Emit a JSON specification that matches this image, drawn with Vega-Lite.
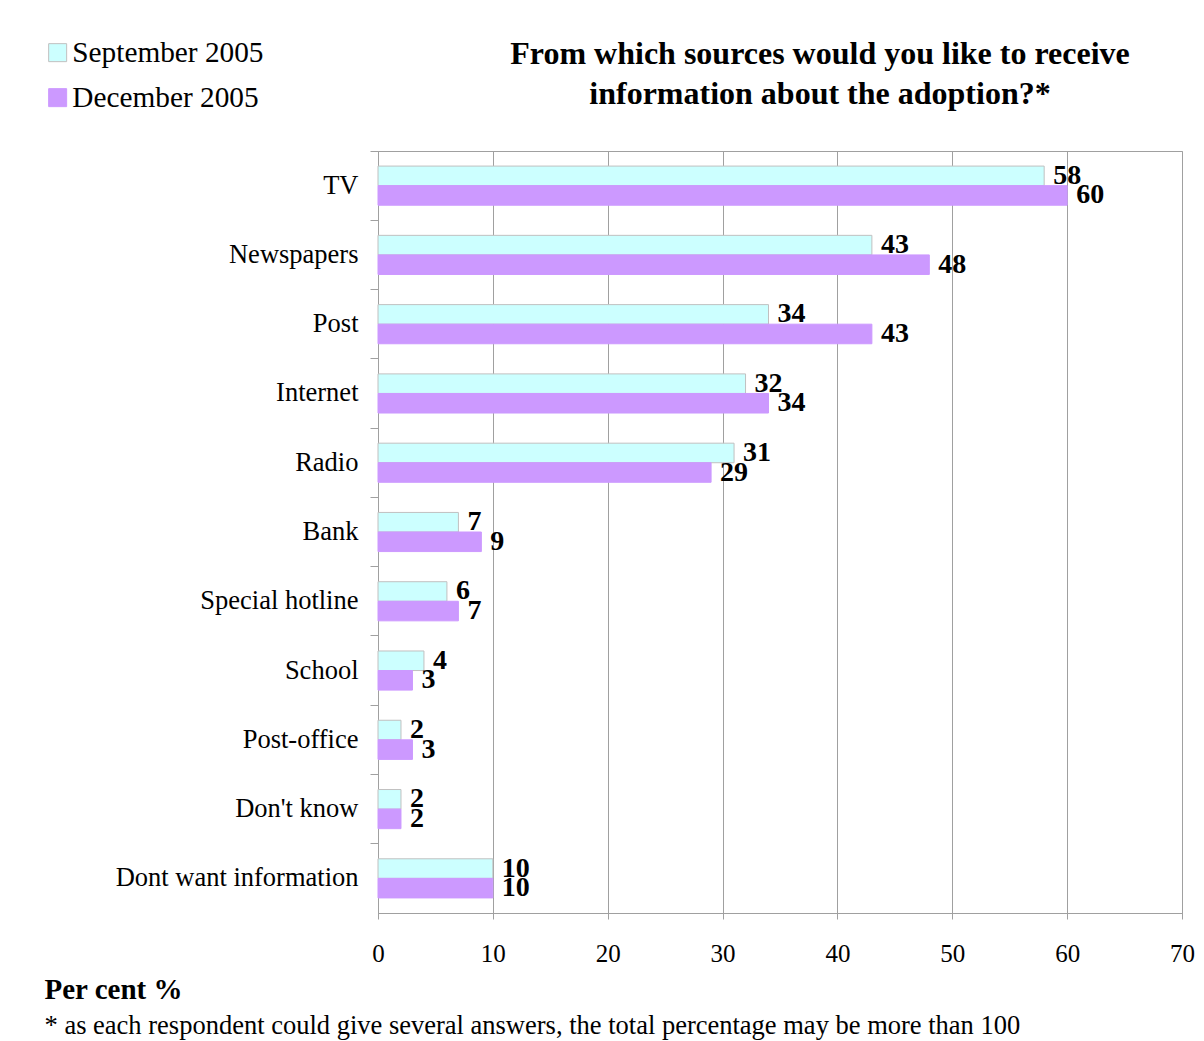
{
  "$schema": "https://vega.github.io/schema/vega-lite/v6.json",
  "width": 804,
  "height": 762,
  "autosize": "none",
  "padding": {"left": 378, "top": 151, "right": 22, "bottom": 128},
  "background": "white",
  "title": {
    "text": ["From which sources would you like to receive", "information about the adoption?*"],
    "font": "Liberation Serif",
    "fontSize": 32,
    "fontWeight": "bold",
    "color": "black",
    "anchor": "middle",
    "frame": "group",
    "dx": 40,
    "lineHeight": 40,
    "offset": -73
  },
  "data": {
    "values": [
      {"source": "TV", "period": "September 2005", "value": 58},
      {"source": "TV", "period": "December 2005", "value": 60},
      {"source": "Newspapers", "period": "September 2005", "value": 43},
      {"source": "Newspapers", "period": "December 2005", "value": 48},
      {"source": "Post", "period": "September 2005", "value": 34},
      {"source": "Post", "period": "December 2005", "value": 43},
      {"source": "Internet", "period": "September 2005", "value": 32},
      {"source": "Internet", "period": "December 2005", "value": 34},
      {"source": "Radio", "period": "September 2005", "value": 31},
      {"source": "Radio", "period": "December 2005", "value": 29},
      {"source": "Bank", "period": "September 2005", "value": 7},
      {"source": "Bank", "period": "December 2005", "value": 9},
      {"source": "Special hotline", "period": "September 2005", "value": 6},
      {"source": "Special hotline", "period": "December 2005", "value": 7},
      {"source": "School", "period": "September 2005", "value": 4},
      {"source": "School", "period": "December 2005", "value": 3},
      {"source": "Post-office", "period": "September 2005", "value": 2},
      {"source": "Post-office", "period": "December 2005", "value": 3},
      {"source": "Don't know", "period": "September 2005", "value": 2},
      {"source": "Don't know", "period": "December 2005", "value": 2},
      {"source": "Dont want information", "period": "September 2005", "value": 10},
      {"source": "Dont want information", "period": "December 2005", "value": 10}
    ]
  },
  "encoding": {
    "y": {
      "field": "source",
      "type": "nominal",
      "sort": null,
      "scale": {"paddingInner": 0, "paddingOuter": 0},
      "axis": {
        "title": "* as each respondent could give several answers, the total percentage may be more than 100",
        "titleAngle": 0,
        "titleX": -334,
        "titleY": 882,
        "titleAlign": "left",
        "titleBaseline": "alphabetic",
        "titleFont": "Liberation Serif",
        "titleFontSize": 26.5,
        "titleFontWeight": "normal",
        "titleColor": "black",
        "titleLimit": 1200,
        "bandPosition": 0,
        "domainColor": "#a0a0a0",
        "tickColor": "#a0a0a0",
        "tickSize": 8,
        "labelPadding": 12,
        "labelFont": "Liberation Serif",
        "labelFontSize": 26.5,
        "labelColor": "black",
        "grid": false,
        "labelLimit": 400
      }
    },
    "x": {
      "field": "value",
      "type": "quantitative",
      "scale": {"domain": [0, 70], "nice": false},
      "axis": {
        "values": [0, 10, 20, 30, 40, 50, 60, 70],
        "title": "Per cent %",
        "titleX": -334,
        "titleY": 85,
        "titleAlign": "left",
        "titleAnchor": "start",
        "titleBaseline": "alphabetic",
        "titleFont": "Liberation Serif",
        "titleFontSize": 29,
        "titleFontWeight": "bold",
        "titleColor": "black",
        "domainColor": "#a0a0a0",
        "tickColor": "#a0a0a0",
        "gridColor": "#a0a0a0",
        "grid": true,
        "tickSize": 6,
        "labelPadding": 22,
        "labelFont": "Liberation Serif",
        "labelFontSize": 25,
        "labelColor": "black",
        "labelFlush": false
      }
    },
    "yOffset": {
      "field": "period",
      "type": "nominal",
      "sort": ["September 2005", "December 2005"],
      "scale": {"paddingInner": 0, "paddingOuter": 0.77}
    }
  },
  "layer": [
    {
      "mark": {"type": "bar", "strokeWidth": 1},
      "encoding": {
        "color": {
          "field": "period",
          "type": "nominal",
          "sort": ["September 2005", "December 2005"],
          "scale": {"domain": ["September 2005", "December 2005"], "range": ["#CCFFFF", "#CC99FF"]},
          "legend": {
            "orient": "none",
            "legendX": -335,
            "legendY": -113,
            "title": null,
            "symbolType": "square",
            "symbolSize": 324,
            "symbolStrokeWidth": 1,
            "labelFont": "Liberation Serif",
            "labelFontSize": 29.3,
            "labelColor": "black",
            "labelLimit": 400,
            "rowPadding": 15,
            "labelOffset": 0
          }
        },
        "stroke": {
          "field": "period",
          "type": "nominal",
          "scale": {"domain": ["September 2005", "December 2005"], "range": ["#c0c0c0", "#CC99FF"]},
          "legend": null
        }
      }
    },
    {
      "mark": {
        "type": "text",
        "align": "left",
        "baseline": "middle",
        "dx": 9,
        "font": "Liberation Serif",
        "fontSize": 28,
        "fontWeight": "bold",
        "color": "black"
      },
      "encoding": {
        "text": {"field": "value", "type": "quantitative"}
      }
    }
  ],
  "config": {
    "view": {"stroke": "#a0a0a0"}
  }
}
